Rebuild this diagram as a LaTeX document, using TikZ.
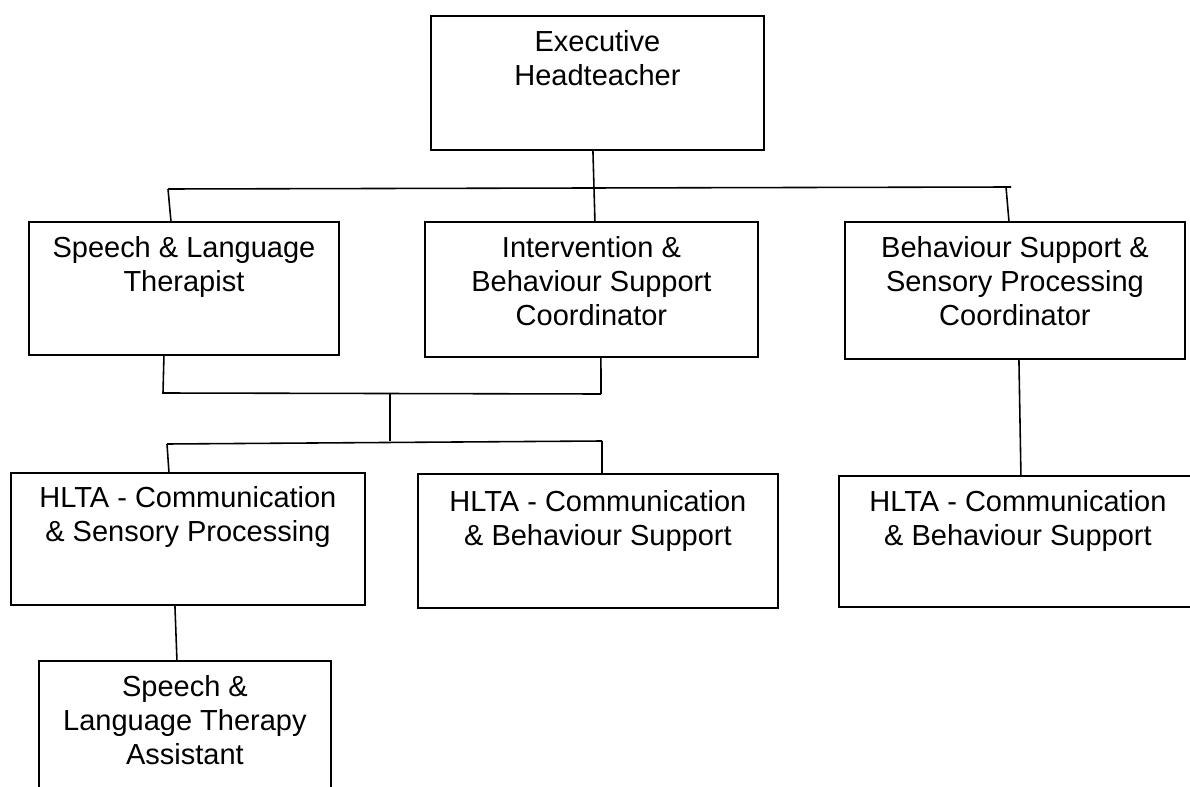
\documentclass[tikz,border=0pt]{standalone}
\usepackage{fontspec}
\setmainfont{Liberation Sans}
\usepackage{tikz}
\usetikzlibrary{calc}

\begin{document}
\begin{tikzpicture}[x=0.02cm,y=-0.02cm,
		post/.style={draw,line width=1.1pt,inner sep=0pt,anchor=north west},
		txt/.style={align=center,anchor=base,inner sep=0pt,font=\fontsize{16.5}{19.35}\selectfont},
		link/.style={line width=0.9pt}]
			\clip (0,0) rectangle (1190,787);
			
			\node[post,minimum width=6.66cm,minimum height=2.68cm] (exec) at (430,15) {};
			\node[post,minimum width=6.2cm,minimum height=2.66cm] (slt) at (28,221) {};
			\node[post,minimum width=6.66cm,minimum height=2.7cm] (ibsc) at (424,221) {};
			\node[post,minimum width=6.8cm,minimum height=2.74cm] (bspc) at (844,221) {};
			\node[post,minimum width=7.08cm,minimum height=2.64cm] (hcsp) at (10,472) {};
			\node[post,minimum width=7.2cm,minimum height=2.68cm] (hcbs) at (417,473) {};
			\node[post,minimum width=7.16cm,minimum height=2.62cm] (hcbs2) at (838,475) {};
			\node[post,minimum width=5.84cm,minimum height=2.8cm] (slta) at (38,660) {};
			
			% base = last line, so shift by first baseline + lines below it
			\node[txt] (t1) at ([yshift=-1.42cm]exec.north) {Executive\\Headteacher};
			\node[txt] (t2) at ([yshift=-1.42cm]slt.north) {Speech \& Language\\Therapist};
			\node[txt] (t3) at ([yshift=-2.1cm]ibsc.north) {Intervention \&\\Behaviour Support\\Coordinator};
			\node[txt] (t4) at ([yshift=-2.1cm]bspc.north) {Behaviour Support \&\\Sensory Processing\\Coordinator};
			\node[txt] (t5) at ([yshift=-1.40cm]hcsp.north) {HLTA - Communication\\\& Sensory Processing};
			\node[txt] (t6) at ([yshift=-1.46cm]hcbs.north) {HLTA - Communication\\\& Behaviour Support};
			\node[txt] (t7) at ([yshift=-1.42cm]hcbs2.north) {HLTA - Communication\\\& Behaviour Support};
			\node[txt] (t8) at ([yshift=-2.1cm]slta.north) {Speech \&\\Language Therapy\\Assistant};
			
			\coordinate (b1) at (168,189);
			\coordinate (b2) at (1011,187);
			\coordinate (b3) at (1006,187);
			\draw[link] (b1) -- (b2);
			\draw[link] ([xshift=-0.09cm]exec.south) -- ([xshift=0.07cm]ibsc.north);
			\draw[link] (b1) -- ([xshift=-0.26cm]slt.north);
			\draw[link] (b3) -- ([xshift=-0.12cm]bspc.north);
			
			\coordinate (m1) at (163,393);
			\coordinate (m2) at (601,394);
			\coordinate (m3) at (390,393.5);
			\coordinate (l1) at (167,444);
			\coordinate (l2) at (602,441);
			\draw[link] ([xshift=-0.4cm]slt.south) -- (m1) -- (m2);
			\draw[link] ([xshift=0.19cm]ibsc.south) -- (m2);
			\draw[link] (m3) -- (m3 |- l2);
			\draw[link] (l1) -- (l2);
			\draw[link] (l1) -- ([xshift=-0.38cm]hcsp.north);
			\draw[link] (l2) -- (l2 |- hcbs.north);
			\draw[link] ([xshift=0.08cm]bspc.south) -- ([xshift=0.06cm]hcbs2.north);
			\draw[link] ([xshift=-0.26cm]hcsp.south) -- ([xshift=-0.16cm]slta.north);

		\end{tikzpicture}
\end{document}
